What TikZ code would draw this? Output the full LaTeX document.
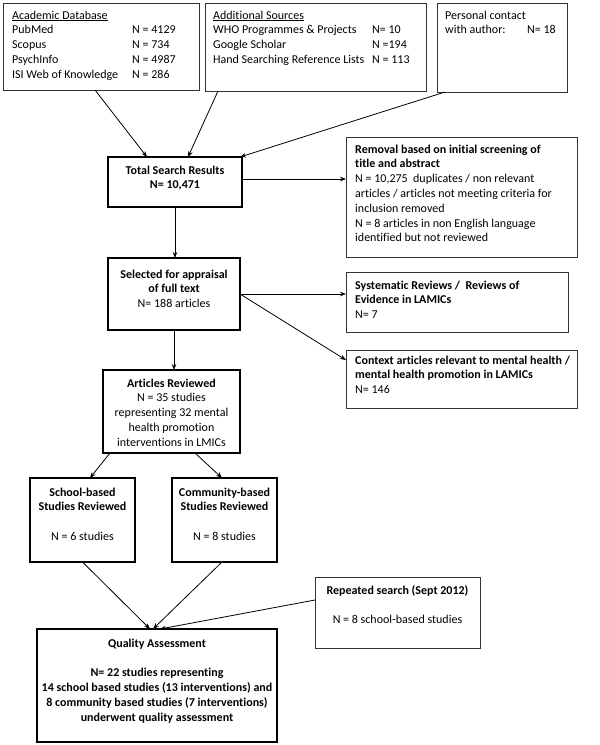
\documentclass[tikz,border=0pt]{standalone}
\usepackage{fontspec}
\setmainfont{Carlito}[Ligatures={NoCommon}]
\usetikzlibrary{arrows.meta,calc}
\begin{document}
\begin{tikzpicture}[x=1pt,y=-1pt,
  thinbox/.style={draw=black!80, line width=0.9pt, inner sep=0pt, outer sep=0pt, anchor=north west},
  thickbox/.style={draw=black, line width=1.7pt, inner sep=0pt, outer sep=0pt, anchor=north west},
  txt/.style={inner sep=0pt, font=\fontsize{12}{14.8}\selectfont},
  ltxt/.style={txt, anchor=north west, align=left},
  ctxt/.style={txt, anchor=north, align=center},
  arr/.style={-{Stealth[length=6pt,width=4.5pt]}, line width=0.8pt}]
\useasboundingbox (0,0) rectangle (600,745);

% boxes
\node[thinbox, minimum width=196pt, minimum height=87pt] (acad) at (3,3) {};
\node[thinbox, minimum width=221pt, minimum height=88pt] (addl) at (205,3) {};
\node[thinbox, minimum width=130pt, minimum height=89pt] (pers) at (437,3) {};
\node[thickbox, minimum width=134pt, minimum height=50pt] (tsr) at (108,157) {};
\node[thinbox, minimum width=231pt, minimum height=120pt] (rem) at (346,137) {};
\node[thickbox, minimum width=132pt, minimum height=72pt] (sel) at (108,258) {};
\node[thinbox, minimum width=222pt, minimum height=60pt] (sys) at (346,272) {};
\node[thinbox, minimum width=231pt, minimum height=58pt] (ctx) at (346,350) {};
\node[thickbox, minimum width=137pt, minimum height=83pt] (art) at (103,370) {};
\node[thickbox, minimum width=105pt, minimum height=84pt] (sch) at (30,478) {};
\node[thickbox, minimum width=105pt, minimum height=84pt] (com) at (172,478) {};
\node[thinbox, minimum width=165pt, minimum height=71pt] (rep) at (315,577) {};
\node[thickbox, minimum width=240pt, minimum height=113pt] (qa) at (37,629) {};

% texts
\node[ltxt] (acadt) at (12,8.5) {\strut\underline{Academic Database}\\
  \makebox[120pt][l]{PubMed}N = 4129\\
  \makebox[120pt][l]{Scopus}N = 734\\
  \makebox[120pt][l]{PsychInfo}N = 4987\\
  \makebox[120pt][l]{ISI Web of Knowledge}N = 286};
\node[ltxt] (addlt) at (213,8.5) {\strut\underline{Additional Sources}\\
  \makebox[159pt][l]{WHO Programmes \& Projects}N= 10\\
  \makebox[159pt][l]{Google Scholar}N =194\\
  \makebox[159pt][l]{Hand Searching Reference Lists}N = 113};
\node[ltxt] (perst) at (445,8.5) {\strut Personal contact\\
  \makebox[82pt][l]{with author:}N= 18};
\node[ctxt, font=\fontsize{12}{14.8}\selectfont\bfseries] (tsrt) at (175,163.5) {\strut Total Search Results\\N= 10,471};
\node[ltxt] (remt) at (355,142.5) {\strut\textbf{Removal based on initial screening of}\\
  \textbf{title and abstract}\\
  N = 10,275\ \ duplicates / non relevant\\
  articles / articles not meeting criteria for\\
  inclusion removed\\
  N = 8 articles in non English language\\
  identified but not reviewed};
\node[ctxt] (selt) at (174,267.5) {\strut\textbf{Selected for appraisal}\\\textbf{of full text}\\N= 188 articles};
\node[ltxt] (syst) at (355,278.5) {\strut\textbf{Systematic Reviews /\ \ Reviews of}\\\textbf{Evidence in LAMICs}\\N= 7};
\node[ltxt] (ctxt) at (355,353.5) {\strut\textbf{Context articles relevant to mental health /}\\\textbf{mental health promotion in LAMICs}\\N= 146};
\node[ctxt] (artt) at (171.5,376.5) {\strut\textbf{Articles Reviewed}\\N = 35 studies\\representing 32 mental\\health promotion\\interventions in LMICs};
\node[ctxt] (scht) at (82.5,485.5) {\strut\textbf{School-based}\\\textbf{Studies Reviewed}\\[14.8pt]N = 6 studies};
\node[ctxt] (comt) at (224.5,485.5) {\strut\textbf{Community-based}\\\textbf{Studies Reviewed}\\[14.8pt]N = 8 studies};
\node[ctxt] (rept) at (397.5,583.5) {\strut\textbf{Repeated search (Sept 2012)}\\[14.8pt]N = 8 school-based studies};
\node[ctxt, font=\fontsize{12}{14.8}\selectfont\bfseries] (qat) at (157,636.5) {\strut Quality Assessment\\[14.8pt]N= 22 studies representing\\14 school based studies (13 interventions) and\\8 community based studies (7 interventions)\\underwent quality assessment};

% connectors
\draw[arr] ($(acad.south west)+(92,0)$) -- ($(tsr.north west)+(39,0)$);
\draw[arr] ($(addl.south west)+(13,0)$) -- ($(tsr.north west)+(80,0)$);
\draw[arr] ($(pers.south west)+(8,0)$) -- ($(tsr.north east)+(-2,0)$);
\coordinate (tsrR) at ($(tsr.north east)+(0,22)$);
\draw[arr] (tsrR) -- (tsrR -| rem.west);
\draw[arr] (tsr.south) -- (tsr.south |- sel.north);
\draw[arr] (sel.east) -- (sel.east -| sys.west);
\draw[arr] (sel.east) -- ($(ctx.north west)+(0,10)$);
\draw[arr] (sel.south) -- (sel.south |- art.north);
\draw[arr] ($(art.south west)+(7,0)$) -- ($(sch.north west)+(60,0)$);
\draw[arr] ($(art.south west)+(92,0)$) -- ($(com.north west)+(50,0)$);
\draw[arr] (sch.south) -- ($(qa.north west)+(113,0)$);
\draw[arr] ($(com.south west)+(50,0)$) -- ($(qa.north west)+(116,0)$);
\draw[arr] ($(rep.north west)+(0,23)$) -- ($(qa.north west)+(123,0)$);
\end{tikzpicture}
\end{document}
